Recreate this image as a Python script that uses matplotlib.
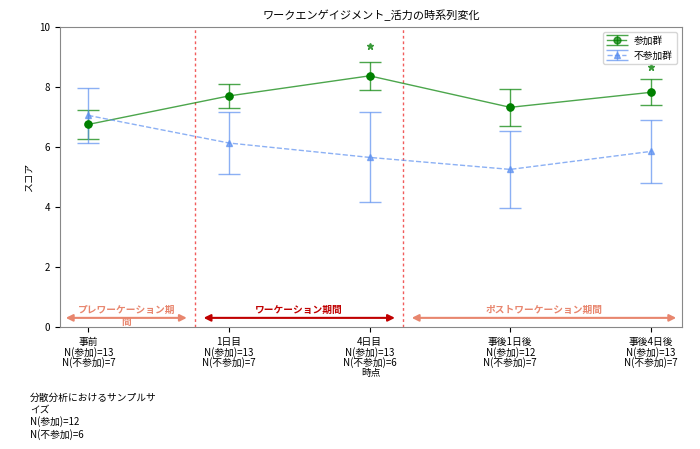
import matplotlib
matplotlib.use("Agg")
import matplotlib.pyplot as plt
plt.rcParams['font.family'] = 'Noto Sans CJK JP'

labels = ["事前\nN(参加)=13\nN(不参加)=7", "1日目\nN(参加)=13\nN(不参加)=7", "4日目\nN(参加)=13\nN(不参加)=6",
          "事後1日後\nN(参加)=12\nN(不参加)=7", "事後4日後\nN(参加)=13\nN(不参加)=7"]
part_mean = [6.75, 7.7, 8.37, 7.32, 7.82]
part_err = [0.48, 0.4, 0.46, 0.62, 0.43]
non_mean = [7.05, 6.13, 5.65, 5.25, 5.85]
non_err = [0.92, 1.03, 1.5, 1.28, 1.05]
star_x = [2, 4]
star_y = [9.35, 8.68]

fig = plt.figure(figsize=(7, 4.49), dpi=100)
ax = fig.add_axes([0.086, 0.272, 0.888, 0.668])
x = list(range(len(labels)))
ax.errorbar(x, part_mean, yerr=part_err, color='green', marker='o', ms=5, capsize=8,
            elinewidth=1, lw=1, alpha=0.7, label='参加群', markerfacecolor='green')
ax.errorbar(x, non_mean, yerr=non_err, color='#5b8ff0', marker='^', ms=4, capsize=8,
            elinewidth=1, lw=1, ls='--', alpha=0.7, label='不参加群')
ax.plot(x, part_mean, 'o', color='green', ms=5)
for sx, sy in zip(star_x, star_y):
    ax.plot(sx, sy, '*', color='#3a9a3a', ms=5)
for vx in [0.76, 2.24]:
    ax.axvline(vx, color='#ee3333', ls=(0, (2, 2)), lw=1, alpha=0.8)
ax.annotate('', xy=(-0.18, 0.3), xytext=(0.72, 0.3), arrowprops=dict(arrowstyle='<|-|>', color='#e8866e', lw=1.5))
ax.annotate('', xy=(0.8, 0.3), xytext=(2.2, 0.3), arrowprops=dict(arrowstyle='<|-|>', color='#c00000', lw=1.5))
ax.annotate('', xy=(2.28, 0.3), xytext=(4.2, 0.3), arrowprops=dict(arrowstyle='<|-|>', color='#e8866e', lw=1.5))
ax.text(0.27, 0.58, 'プレワーケーション期', color='#e8866e', ha='center', va='center', fontsize=7, fontweight='bold')
ax.text(0.27, 0.15, '間', color='#e8866e', ha='center', va='center', fontsize=7, fontweight='bold')
ax.text(1.5, 0.58, 'ワーケーション期間', color='#c00000', ha='center', va='center', fontsize=7, fontweight='bold')
ax.text(3.24, 0.58, 'ポストワーケーション期間', color='#e8866e', ha='center', va='center', fontsize=7, fontweight='bold')
ax.set_xlim(-0.2, 4.22)
ax.set_ylim(0, 10)
ax.set_xticks(x)
ax.set_xticklabels(labels, fontsize=7, linespacing=1.0)
ax.set_yticks([0, 2, 4, 6, 8, 10])
ax.set_yticklabels(['0', '2', '4', '6', '8', '10'], fontsize=7)
ax.set_xlabel('時点', fontsize=7, labelpad=0)
ax.set_ylabel('スコア', fontsize=7)
ax.set_title('ワークエンゲイジメント_活力の時系列変化', fontsize=8)
for s in ax.spines.values():
    s.set_color('#888888')
ax.legend(loc='upper right', fontsize=7)
fig.text(0.043, 0.125, '分散分析におけるサンプルサ\nイズ\nN(参加)=12\nN(不参加)=6', fontsize=7, va='top', linespacing=1.2)
fig.savefig('out.png')
